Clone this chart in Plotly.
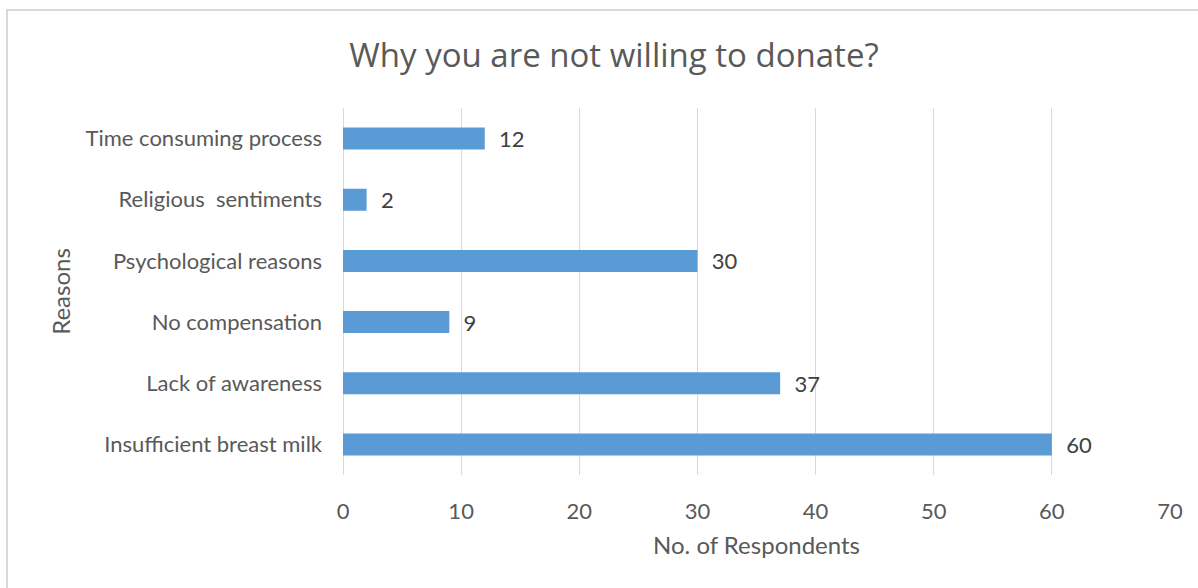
import plotly.graph_objects as go

categories = ["Insufficient breast milk", "Lack of awareness", "No compensation",
              "Psychological reasons", "Religious\u00a0 sentiments", "Time consuming process"]
values = [60, 37, 9, 30, 2, 12]
x_ticks = [0, 10, 20, 30, 40, 50, 60, 70]

W, H = 1198, 588
L, R, T, B = 343, 28, 108, 113
pw, ph = W - L - R, H - T - B

fig = go.Figure()
fig.add_trace(go.Bar(
    x=values, y=categories, orientation="h",
    marker=dict(color="#5B9BD5", line=dict(width=0)),
    width=0.36,
    text=[f"  {v}" for v in values], textposition="outside",
    constraintext="none",
    textfont=dict(family="Lato, sans-serif", size=22, color="#404040"),
    cliponaxis=False,
))

def px_to_paper_x(px):
    return (px - L) / pw

def px_to_paper_y(py):
    return 1 - (py - T) / ph

fig.add_shape(type="rect", xref="paper", yref="paper",
              x0=px_to_paper_x(7), x1=px_to_paper_x(1210),
              y0=px_to_paper_y(600), y1=px_to_paper_y(10),
              line=dict(color="#d9d9d9", width=2), fillcolor="rgba(0,0,0,0)", layer="below")

fig.update_layout(
    width=W, height=H,
    margin=dict(l=L, r=R, t=T, b=B, autoexpand=False),
    paper_bgcolor="white", plot_bgcolor="white",
    showlegend=False,
    title=dict(text="Why you are not willing to donate?", x=(614) / W, xanchor="center",
               y=1 - 55 / H, yanchor="middle",
               font=dict(family="Open Sans, sans-serif", size=33, color="#595959")),
    xaxis=dict(range=[0, 70], tickvals=x_ticks, showgrid=True, gridcolor="#d9d9d9", gridwidth=1,
               zeroline=True, zerolinecolor="#d9d9d9", zerolinewidth=1,
               showline=False, ticks="", ticklabelstandoff=21,
               tickfont=dict(family="Lato, sans-serif", size=22, color="#595959"),
               title=dict(text="No. of Respondents", standoff=14,
                          font=dict(family="Lato, sans-serif", size=24, color="#595959"))),
    yaxis=dict(categoryorder="array", categoryarray=categories, showgrid=False,
               showline=False, ticks="", ticklabelstandoff=20,
               tickfont=dict(family="Lato, sans-serif", size=22, color="#595959"),
               title=dict(text="Reasons", standoff=8,
                          font=dict(family="Lato, sans-serif", size=24, color="#595959"))),
    bargap=0.64,
)

fig.write_html("out.html")
